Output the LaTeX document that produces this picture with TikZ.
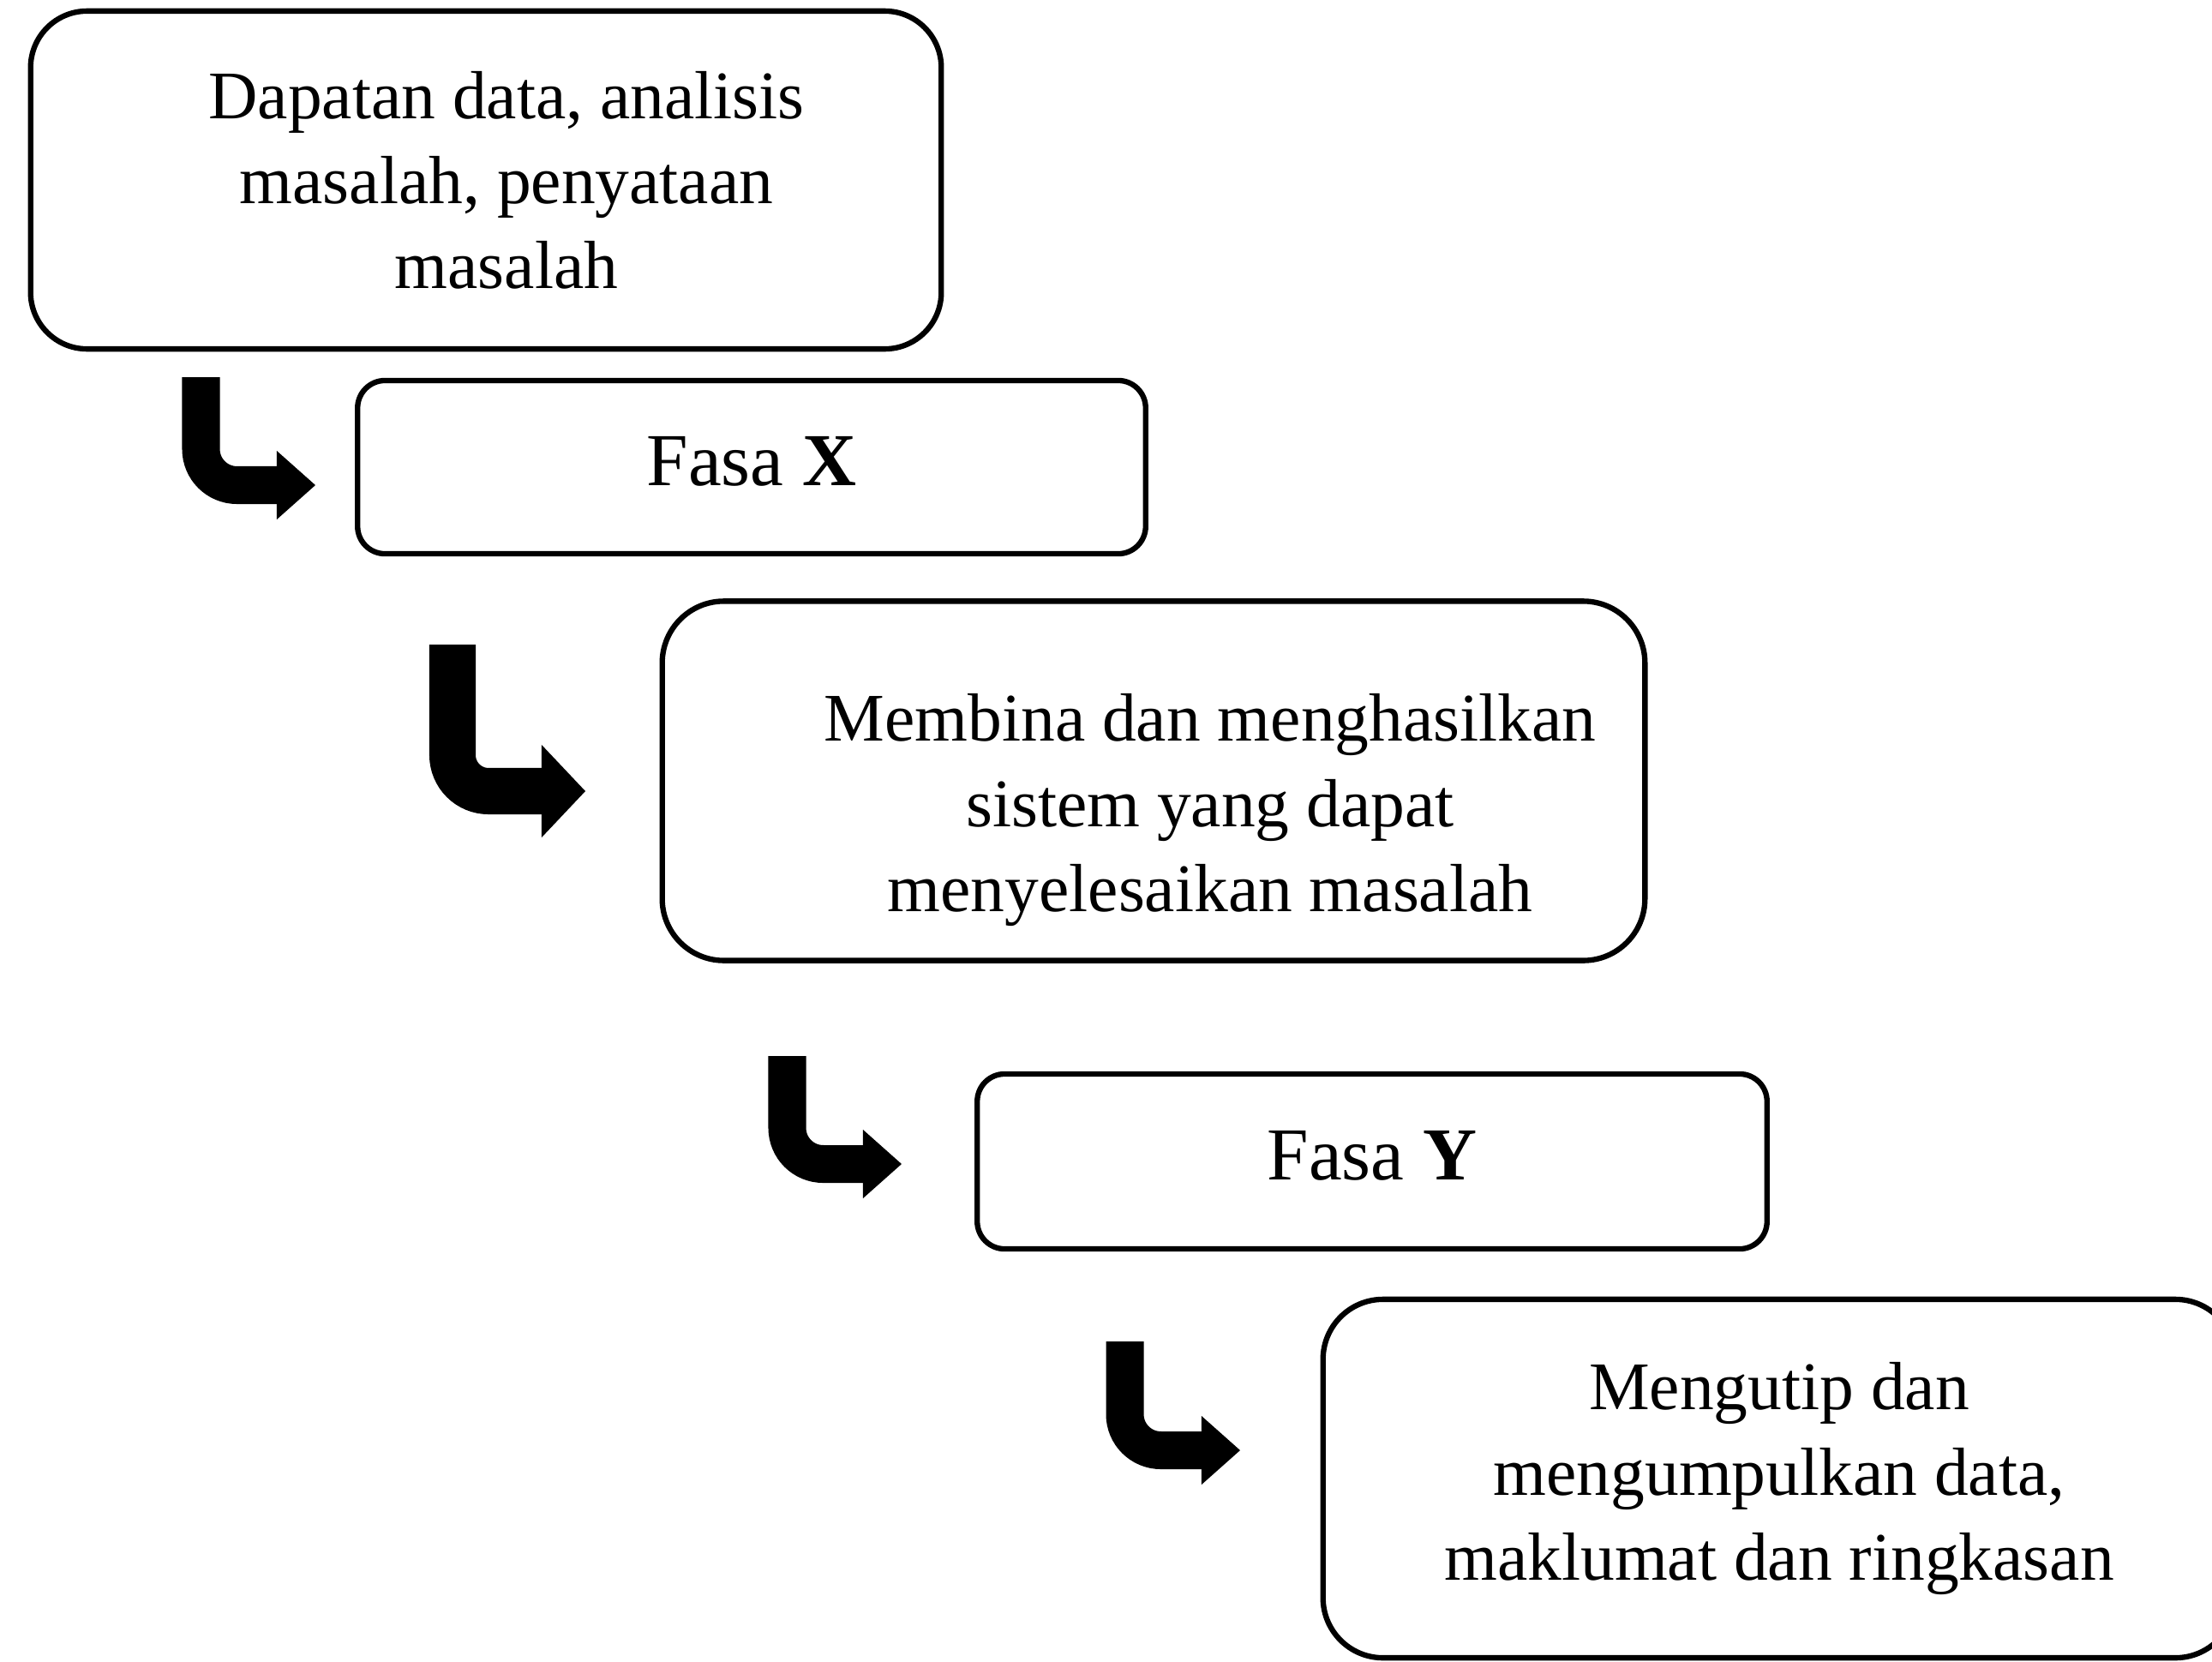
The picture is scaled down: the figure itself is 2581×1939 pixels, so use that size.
\documentclass[tikz,border=0pt]{standalone}
\usepackage{fontspec}
\setmainfont{Liberation Serif}
\usetikzlibrary{arrows.meta}

\begin{document}
\begin{tikzpicture}[x=0.01cm, y=-0.01cm,
    txt/.style={align=center, font=\fontsize{22.6}{28.2}\selectfont},
    box/.style={txt, draw, line width=1.8pt, rounded corners=#1},
    box/.default=0.32cm,
    fasa/.style={font=\fontsize{24.8}{30}\selectfont, text depth=0.14cm},
    bentarrow/.style={line width=0.44cm, rounded corners=0.42cm,
      -{Triangle[length=0.45cm, width=0.8cm, line width=0pt]}}]

  % page
  \clip (0,0) rectangle (2581,1939);

  % Boxes
  \node[box=0.66cm, minimum width=10.62cm, minimum height=3.94cm] (dapatan) at (567,210) {};
  \node[txt] (dapatantext) at (591,210)
    {Dapatan data, analisis\\ masalah, penyataan\\ masalah};
  \node[box, fasa, minimum width=9.19cm, minimum height=2.02cm] (fasax) at (877,545)
    {Fasa \textbf{X}};
  \node[box=0.72cm, minimum width=11.46cm, minimum height=4.19cm] (membina) at (1346,911) {};
  \node[txt] (membinatext) at (1412,945)
    {Membina dan menghasilkan\\ sistem yang dapat\\ menyelesaikan masalah};
  \node[box, fasa, minimum width=9.21cm, minimum height=2.04cm] (fasay) at (1601,1355)
    {Fasa \textbf{Y}};
  \node[box=0.7cm, minimum width=10.64cm, minimum height=4.18cm] (mengutip) at (2076,1725)
    {Mengutip dan\\ mengumpulkan data,\\ maklumat dan ringkasan};

  % Bent arrows
  \coordinate (a1s) at (234.5,440);
  \coordinate (a1e) at (368,566);
  \coordinate (a2s) at (528,752);
  \coordinate (a2e) at (683,923);
  \coordinate (a3s) at (918.5,1232);
  \coordinate (a3e) at (1052,1358);
  \coordinate (a4s) at (1312.5,1565);
  \coordinate (a4e) at (1447,1692);
  \draw[bentarrow] (a1s) |- (a1e);
  \draw[bentarrow, line width=0.54cm,
    -{Triangle[length=0.51cm, width=1.08cm, line width=0pt]}] (a2s) |- (a2e);
  \draw[bentarrow] (a3s) |- (a3e);
  \draw[bentarrow] (a4s) |- (a4e);
\end{tikzpicture}
\end{document}
